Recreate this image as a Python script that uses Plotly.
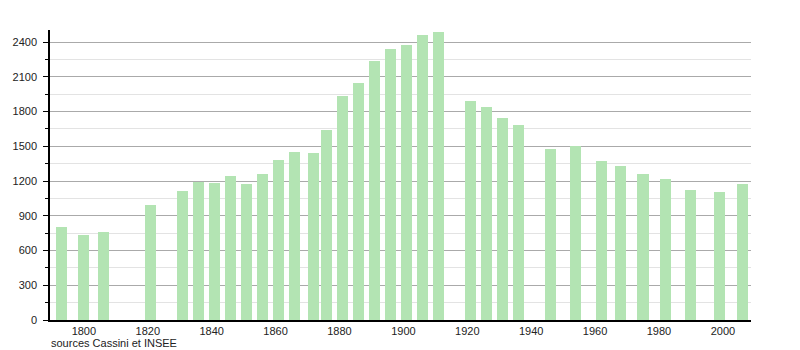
import plotly.graph_objects as go

years = [1793, 1800, 1806, 1821, 1831, 1836, 1841, 1846, 1851, 1856, 1861, 1866,
         1872, 1876, 1881, 1886, 1891, 1896, 1901, 1906, 1911, 1921, 1926, 1931,
         1936, 1946, 1954, 1962, 1968, 1975, 1982, 1990, 1999, 2006]
population = [807, 738, 756, 995, 1114, 1195, 1184, 1244, 1175, 1261, 1382, 1451,
              1443, 1641, 1935, 2048, 2238, 2341, 2376, 2462, 2488, 1892, 1840, 1745,
              1685, 1477, 1503, 1374, 1330, 1261, 1218, 1123, 1106, 1175]
x_ticks = [1800, 1820, 1840, 1860, 1880, 1900, 1920, 1940, 1960, 1980, 2000]
y_ticks = [0, 300, 600, 900, 1200, 1500, 1800, 2100, 2400]
source_text = "sources Cassini et INSEE"

fig = go.Figure(go.Bar(
    x=years, y=population, width=3.45,
    marker=dict(color="#b3e4b3", line=dict(width=0)),
))

fig.update_layout(
    width=800, height=350,
    margin=dict(l=50, r=49, t=30, b=30),
    plot_bgcolor="white", paper_bgcolor="white",
    font=dict(family="Liberation Sans, Arial, sans-serif", size=11, color="#222"),
    showlegend=False,
    bargap=0,
    xaxis=dict(
        range=[1789.4, 2008.8], tickvals=x_ticks, showgrid=False,
        showline=True, linecolor="black", linewidth=1.5, ticks="",
        zeroline=False, fixedrange=True,
    ),
    yaxis=dict(
        range=[0, 2505], tickvals=y_ticks, showgrid=True, gridcolor="#aaaaaa",
        gridwidth=1, showline=True, linecolor="black", linewidth=1.5,
        ticks="outside", ticklen=5, tickcolor="black", zeroline=False,
        ticklabelstandoff=4,
        minor=dict(dtick=150, tick0=0, ticks="outside", ticklen=3, tickcolor="black",
                   showgrid=True, gridcolor="#e3e3e3", gridwidth=1),
    ),
    annotations=[dict(
        text=source_text, xref="paper", yref="paper", x=0, y=-0.08,
        xanchor="left", yanchor="middle", showarrow=False, borderpad=0,
        font=dict(size=11, color="#222"),
    )],
)

fig.write_html("out.html")
